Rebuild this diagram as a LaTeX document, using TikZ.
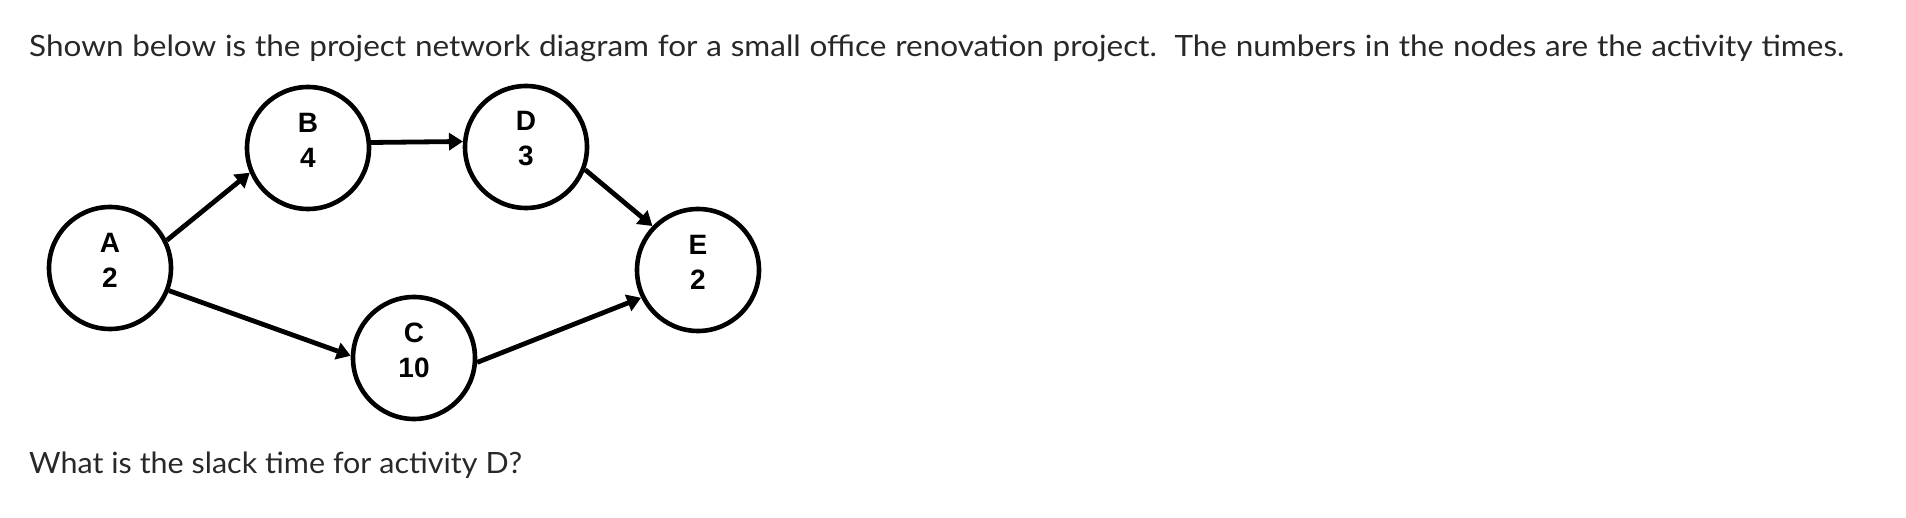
\documentclass[tikz,border=0pt]{standalone}
\usepackage{fontspec}
\setmainfont{Lato}[FakeStretch=1.075]
\newfontfamily\qtwofont{Lato}[FakeStretch=1.04]
\newfontfamily\nodefont{Liberation Sans}
\usetikzlibrary{arrows.meta}
\definecolor{txt}{RGB}{40,40,40}
\begin{document}
\begin{tikzpicture}[x=1pt,y=-1pt,
  act/.style={circle,draw=black,line width=4.6pt,minimum size=122pt,inner sep=0pt},
  acttext/.style={align=center,inner sep=0pt,yshift=8pt,
    font=\nodefont\bfseries\fontsize{28}{35}\selectfont},
  link/.style={line width=4.8pt,-{Triangle[length=14pt,width=17pt]}},
  prose/.style={anchor=base west,inner sep=0pt,text=txt,font=\fontsize{29.3}{35}\selectfont}]
\useasboundingbox (0,0) rectangle (1906,518);
\node[prose] (q1) at (29,57) {\makebox[1815pt][s]{Shown below is the project network diagram for a small office renovation project.\ \ The numbers in the nodes are the activity times.}};
\node[prose,font=\qtwofont\fontsize{29.3}{35}\selectfont] (q2) at (29,473) {\makebox[493pt][s]{What is the slack time for activity D?}};
\node[act,label={[acttext]center:A\\2}] (A) at (110,268) {};
\node[act,label={[acttext]center:B\\4}] (B) at (308,148) {};
\node[act,label={[acttext]center:D\\3}] (D) at (526,147) {};
\node[act,label={[acttext]center:E\\2}] (E) at (698,270) {};
\node[act,label={[acttext]center:C\\10}] (C) at (414,358) {};
\draw[link] (A.26) -- (B.203);
\draw[link] (B.5) -- (D.175);
\draw[link] (A.-21) -- (C.178);
\draw[link] (D.-21) -- (E.136);
\draw[link] (C.-4) -- (E.206);
\end{tikzpicture}
\end{document}
